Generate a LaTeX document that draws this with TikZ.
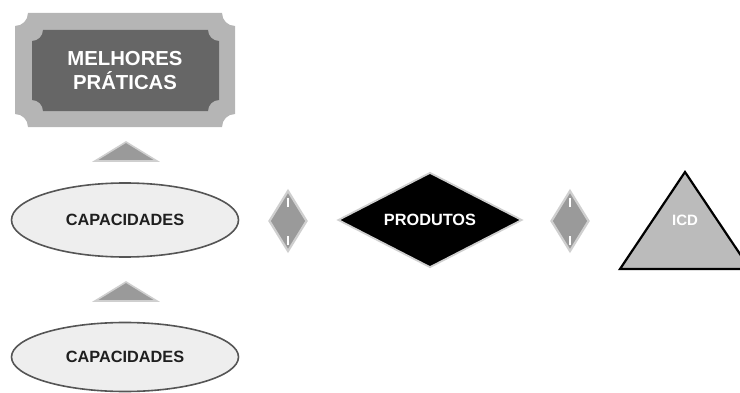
\documentclass[tikz,border=0pt]{standalone}
\usepackage{fontspec}
\setmainfont{Liberation Sans}
\usetikzlibrary{shapes.geometric}
\definecolor{plaqueout}{HTML}{B5B5B5}
\definecolor{plaquein}{HTML}{666666}
\definecolor{capfill}{HTML}{EEEEEE}
\definecolor{capline}{HTML}{555555}
\definecolor{markfill}{HTML}{9A9A9A}
\definecolor{markline}{HTML}{CFCFCF}
\definecolor{icdfill}{HTML}{BBBBBB}
\tikzset{
  capbox/.style={ellipse, draw=capline, fill=capfill, line width=1.6pt,
    minimum width=227pt, inner sep=0pt,
    font=\bfseries\fontsize{16.3}{19}\selectfont, text=black!88},
  markdiamond/.style={diamond, fill=markfill, draw=markline, line width=2.2pt,
    minimum width=38pt, minimum height=61pt, inner sep=0pt, aspect=0.6},
  marktri/.style={fill=markfill, draw=markline, line width=1.6pt, line join=miter},
  whitetext/.style={text=white, font=\bfseries\fontsize{16.3}{19}\selectfont},
  glint/.style={draw=white, line width=1.3pt}
}
% plaque with concave (notched) corners: lower-left, upper-right, radius
\newcommand{\notchplaque}[6]{%
  \fill[#6] ({#1+#5},#4) -- ({#3-#5},#4)
    arc[start angle=180,end angle=270,radius=#5] -- (#3,{#2+#5})
    arc[start angle=90,end angle=180,radius=#5] -- ({#1+#5},#2)
    arc[start angle=0,end angle=90,radius=#5] -- (#1,{#4-#5})
    arc[start angle=270,end angle=360,radius=#5] -- cycle;}
\begin{document}
\begin{tikzpicture}[x=1pt,y=1pt]
\useasboundingbox (0,0) rectangle (740,392);
\clip (0,0) rectangle (740,392);

% best-practices plaque
\notchplaque{15}{265}{235}{379}{13}{plaqueout}
\notchplaque{32}{281}{219}{362}{11}{plaquein}
\node[whitetext, font=\bfseries\fontsize{20.3}{24}\selectfont, align=center]
  (mp) at (125,321) {MELHORES\\PRÁTICAS};

% upward markers
\node[coordinate] (t1) at (126,250) {};
\draw[marktri] (95,231) -- (126,250) -- (157,231) -- cycle;
\node[coordinate] (t2) at (126,110) {};
\draw[marktri] (95,91) -- (126,110) -- (157,91) -- cycle;

% capability ellipses
\node[capbox, minimum height=74pt] (cap1) at (125,172) {CAPACIDADES};
\node[capbox, minimum height=69pt] (cap2) at (125,35) {CAPACIDADES};

% small diamonds between the elements
\node[markdiamond] (d1) at (288,171) {};
\draw[glint] (288,185) -- (288,194);
\draw[glint] (288,147) -- (288,156);
\node[markdiamond] (d2) at (570,171) {};
\draw[glint] (570,185) -- (570,194);
\draw[glint] (570,147) -- (570,156);

% products diamond
\node[diamond, fill=black, draw=markline, line width=1.8pt,
  minimum width=184pt, minimum height=95pt, inner sep=0pt, aspect=1.94,
  whitetext] (prod) at (430,172) {PRODUTOS};

% ICD triangle
\draw[fill=icdfill, draw=black, line width=2.2pt, line join=miter]
  (620,123) -- (685,220) -- (750,123) -- cycle;
\node[whitetext, font=\bfseries\fontsize{15}{18}\selectfont] (icd) at (685,172) {ICD};
\end{tikzpicture}
\end{document}
